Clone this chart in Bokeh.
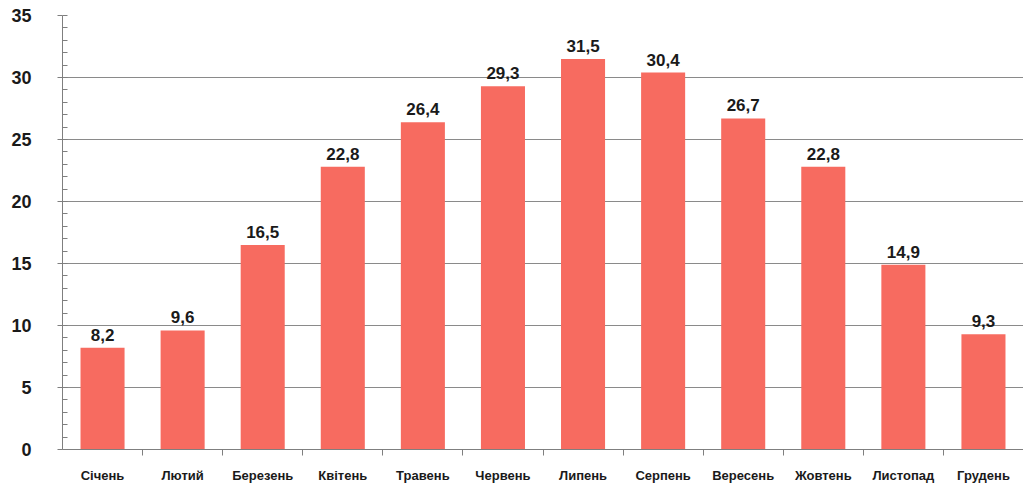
from bokeh.plotting import figure
from bokeh.models import ColumnDataSource, FixedTicker, SingleIntervalTicker, Range1d
from bokeh.core.properties import value
from bokeh.embed import file_html
from bokeh.resources import INLINE

# Monthly values
months = ["Січень", "Лютий", "Березень", "Квітень", "Травень", "Червень",
          "Липень", "Серпень", "Вересень", "Жовтень", "Листопад", "Грудень"]
values = [8.2, 9.6, 16.5, 22.8, 26.4, 29.3, 31.5, 30.4, 26.7, 22.8, 14.9, 9.3]
y_ticks = [0, 5, 10, 15, 20, 25, 30, 35]

FONT = "Liberation Sans"
BAR_COLOR = "#F76B60"
AXIS_COLOR = "#7f7f7f"

centers = [i + 0.5 for i in range(len(months))]
bounds = list(range(1, len(months)))
labels = [f"{v:.1f}".replace(".", ",") for v in values]

source = ColumnDataSource(dict(x=centers, top=values, label=labels))

p = figure(width=1023, height=486, output_backend="svg", toolbar_location=None,
           x_range=Range1d(0, len(months)), y_range=Range1d(0, 35),
           min_border_left=62, min_border_right=0, min_border_top=15,
           min_border_bottom=37)
p.outline_line_color = None
p.background_fill_color = "white"
p.border_fill_color = "white"

p.vbar(x="x", top="top", width=0.55, bottom=0, source=source,
       fill_color=BAR_COLOR, line_color=None)

p.text(x="x", y="top", text="label", source=source,
       text_font=value(FONT), text_font_style="bold", text_font_size="17px",
       text_color="#1a1a1a", text_align="center", text_baseline="bottom",
       y_offset=-7)

# y axis: major ticks outward, four minor ticks inward
p.yaxis.ticker = FixedTicker(ticks=y_ticks, minor_ticks=list(range(0, 36)))
p.yaxis.axis_line_color = AXIS_COLOR
p.yaxis.major_tick_line_color = AXIS_COLOR
p.yaxis.minor_tick_line_color = AXIS_COLOR
p.yaxis.major_tick_out = 5
p.yaxis.major_tick_in = 0
p.yaxis.minor_tick_in = 5
p.yaxis.minor_tick_out = 0
p.yaxis.major_label_text_font = FONT
p.yaxis.major_label_text_font_style = "bold"
p.yaxis.major_label_text_font_size = "18px"
p.yaxis.major_label_text_color = "#1a1a1a"
p.yaxis.major_label_standoff = 26

# x axis: month names at bar centres, separator ticks between them
p.xaxis.ticker = FixedTicker(ticks=centers, minor_ticks=bounds)
p.xaxis.major_label_overrides = {c: m for c, m in zip(centers, months)}
p.xaxis.axis_line_color = AXIS_COLOR
p.xaxis.major_tick_line_color = None
p.xaxis.minor_tick_line_color = AXIS_COLOR
p.xaxis.minor_tick_out = 6
p.xaxis.minor_tick_in = 0
p.xaxis.major_label_text_font = FONT
p.xaxis.major_label_text_font_style = "bold"
p.xaxis.major_label_text_font_size = "13px"
p.xaxis.major_label_text_color = "#1a1a1a"
p.xaxis.major_label_standoff = 12

p.xgrid.grid_line_color = None
p.ygrid.ticker = FixedTicker(ticks=y_ticks)
p.ygrid.grid_line_color = "#8a8a8a"
p.ygrid.grid_line_width = 1

open("out.html", "w").write(file_html(p, INLINE))
